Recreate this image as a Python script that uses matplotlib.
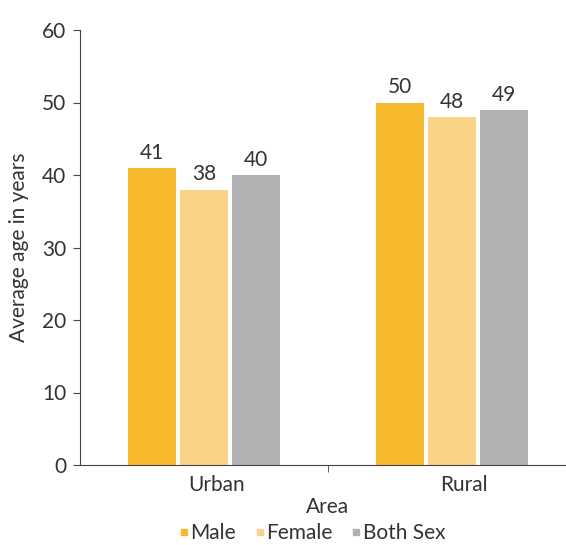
import numpy as np
import matplotlib.pyplot as plt
from matplotlib.lines import Line2D

plt.rcParams['font.family'] = ['Lato', 'DejaVu Sans']

areas = ['Urban', 'Rural']
series = ['Male', 'Female', 'Both Sex']
values = {
    'Male': [41, 50],
    'Female': [38, 48],
    'Both Sex': [40, 49],
}
colors = ['#F7B92E', '#FAD386', '#B1B1B4']
txt = '#333333'
fs = 15

fig = plt.figure(figsize=(5.66, 5.45), dpi=100)
ax = fig.add_axes([80 / 566, 80 / 545, 496 / 566, 435 / 545])

x = np.arange(len(areas))
w = 0.194
step = 0.21
for i, (name, c) in enumerate(zip(series, colors)):
    pos = x + (i - 1) * step
    bars = ax.bar(pos, values[name], width=w, color=c, label=name)
    for b, v in zip(bars, values[name]):
        ax.text(b.get_x() + b.get_width() / 2, v + 0.7, str(v),
                ha='center', va='bottom', fontsize=fs, color=txt)

ax.set_xlim(-0.5, 1.5)
ax.set_ylim(0, 60)
ax.set_yticks(range(0, 61, 10))
ax.set_xticks(x + 0.05)
ax.set_xticklabels(areas)
ax.set_xticks([0.5], minor=True)
ax.tick_params(axis='x', which='major', length=0, pad=7, labelsize=fs, labelcolor=txt)
ax.tick_params(axis='x', which='minor', length=5, color='#444444')
ax.tick_params(axis='y', length=5, color='#444444', labelsize=fs, labelcolor=txt, pad=5)

for s in ['top', 'right']:
    ax.spines[s].set_visible(False)
ax.spines['left'].set_color('#444444')
ax.spines['bottom'].set_color('#444444')

ax.set_ylabel('Average age in years', fontsize=fs, color=txt, labelpad=9)
fig.text(328 / 566, 1 - 507 / 545, 'Area', ha='center', va='center', fontsize=fs, color=txt)

handles = [Line2D([], [], marker='s', linestyle='none', markersize=5,
                  markerfacecolor=c, markeredgecolor=c) for c in colors]
fig.legend(handles, series, loc='center', bbox_to_anchor=(312 / 566, 1 - 533 / 545),
           ncol=3, frameon=False, fontsize=fs, handletextpad=0.05,
           columnspacing=0.9, handlelength=0.5, labelcolor=txt,
           borderpad=0.1)

fig.savefig('out.png', dpi=100)
